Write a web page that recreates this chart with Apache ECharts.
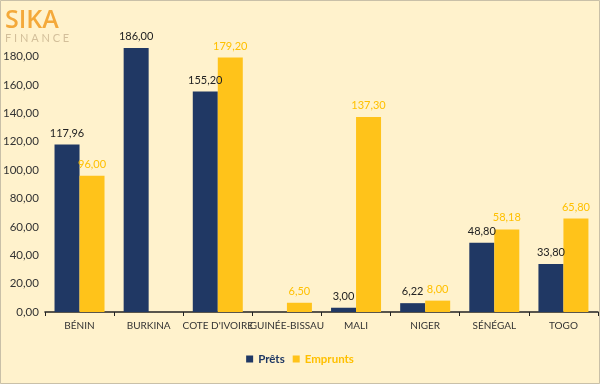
<!DOCTYPE html>
<html><head><meta charset="utf-8">
<script src="https://cdn.jsdelivr.net/npm/echarts@6/dist/echarts.min.js"></script>
<style>html,body{margin:0;padding:0;background:#FFF2CC;}#c{width:600px;height:384px;}</style>
</head><body><div id="c"></div>
<script>
var categories = ['BÉNIN','BURKINA',"COTE D'IVOIRE",'GUINÉE-BISSAU','MALI','NIGER','SÉNÉGAL','TOGO'];
var prets = [117.96, 186.00, 155.20, null, 3.00, 6.22, 48.80, 33.80];
var emprunts = [96.00, null, 179.20, 6.50, 137.30, 8.00, 58.18, 65.80];
var yTicks = [0,20,40,60,80,100,120,140,160,180];

function fr(v){ return v.toFixed(2).replace('.', ','); }
var font = 'Lato, "Open Sans", sans-serif';
var chart = echarts.init(document.getElementById('c'));
chart.setOption({
  backgroundColor: '#FFF2CC',
  animation: false,
  textStyle: {fontFamily: font},
  graphic: [
    {type:'rect', shape:{x:0.5,y:0.5,width:599,height:383}, style:{fill:'none', stroke:'#C9C0A8', lineWidth:1}},
    {type:'text', left:5, top:8, style:{text:'SIKA', font:'600 25px "Open Sans", sans-serif', fill:'#F4A93A'}},
    {type:'text', left:5, top:33, style:{text:'F I N A N C E', font:'11px Lato, sans-serif', fill:'#D3BF9A'}}
  ],
  grid: {left: 44, right: 2, top: 28, bottom: 72, containLabel: false},
  legend: {
    bottom: 14, left: 'center', itemWidth: 7, itemHeight: 7, itemGap: 8,
    textStyle: {fontSize: 11.5, fontWeight: 'bold', fontFamily: font},
    data: [
      {name:'Prêts', icon:'rect', textStyle:{color:'#1F3864'}},
      {name:'Emprunts', icon:'rect', textStyle:{color:'#FFC000'}}
    ]
  },
  xAxis: {
    type: 'category', data: categories,
    axisLine: {lineStyle: {color: '#222', width: 1.5}},
    axisTick: {show: true, inside: false, length: 4, lineStyle:{color:'#222'}},
    axisLabel: {color: '#333', fontSize: 10, margin: 9, interval: 0, fontFamily: font}
  },
  yAxis: {
    type: 'value', min: 0, max: 200, interval: 20,
    splitLine: {show: false},
    axisLine: {show: false}, axisTick: {show: false},
    axisLabel: {color: '#333', fontSize: 11.5, margin: 6, fontFamily: font,
      formatter: function(v){ return yTicks.indexOf(v) >= 0 ? fr(v) : ''; }}
  },
  series: [
    {name:'Prêts', type:'bar', data: prets, barWidth: 25, barGap: '0%',
     itemStyle:{color:'#203864'},
     label:{show:true, position:'top', color:'#222', fontSize:11, distance:6, fontFamily: font,
       formatter: function(p){ return fr(p.value); }}},
    {name:'Emprunts', type:'bar', data: emprunts, barWidth: 25, barGap: '0%',
     itemStyle:{color:'#FFC31A'},
     label:{show:true, position:'top', color:'#FFC000', fontSize:11, distance:6, fontFamily: font,
       formatter: function(p){ return fr(p.value); }}}
  ]
});
</script></body></html>
